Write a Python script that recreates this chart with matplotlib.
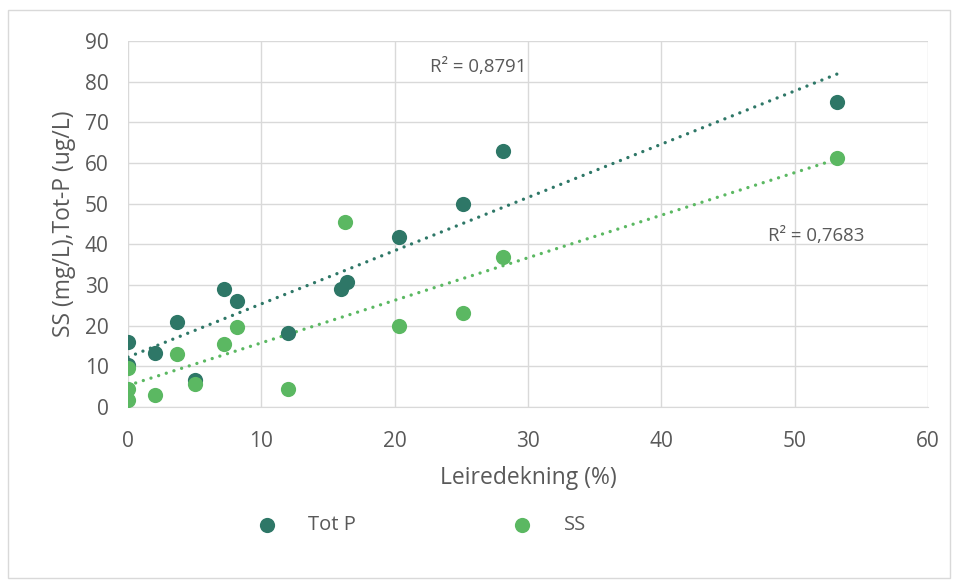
import numpy as np
import matplotlib
matplotlib.use("Agg")
import matplotlib.pyplot as plt
from matplotlib.patches import Rectangle

plt.rcParams['font.family'] = ['Open Sans', 'DejaVu Sans']

# Data
totp_x = [0, 0, 2, 3.7, 5, 7.2, 8.2, 12, 16, 16.4, 20.3, 25.1, 28.1, 53.2]
totp_y = [16, 10.3, 13.3, 21, 6.6, 29, 26, 18.2, 29, 30.7, 41.8, 50, 63, 75]
ss_x = [0, 0, 0, 2, 3.7, 5, 7.2, 8.2, 12, 16.3, 20.3, 25.1, 28.1, 53.2]
ss_y = [1.7, 4.4, 9.5, 3, 13, 5.6, 15.5, 19.7, 4.5, 45.5, 20, 23.1, 37, 61.3]
r2_labels = ["R² = 0,8791", "R² = 0,7683"]
series_names = ["Tot P", "SS"]
x_ticks = [0, 10, 20, 30, 40, 50, 60]
y_ticks = [0, 10, 20, 30, 40, 50, 60, 70, 80, 90]

dark = "#2E7767"
green = "#5BB862"
text_gray = "#595959"
grid_gray = "#D9D9D9"

fig = plt.figure(figsize=(9.58, 5.80), dpi=100)
fig.patches.append(Rectangle((8/958, 1-578/580), 942/958, 568/580, transform=fig.transFigure,
                             fill=False, edgecolor="#D9D9D9", linewidth=1.0))
ax = fig.add_axes([128/958, 1-407/580, 800/958, 366/580])

for xs, ys, c in [(totp_x, totp_y, dark), (ss_x, ss_y, green)]:
    xa = np.array(xs); ya = np.array(ys)
    m, b = np.polyfit(xa, ya, 1)
    xl = np.array([0, xa.max()])
    ax.plot(xl, m*xl + b, linestyle=(0, (0.01, 2.4)), color=c, linewidth=2.4, zorder=2,
            dash_capstyle='round', solid_capstyle='round')

ax.scatter(totp_x, totp_y, s=120, color=dark, zorder=3, label=series_names[0], linewidths=0)
ax.scatter(ss_x, ss_y, s=120, color=green, zorder=4, label=series_names[1], linewidths=0)

ax.text(26.3, 83.6, r2_labels[0], fontsize=13.4, color=text_gray, ha='center', va='center')
ax.text(51.6, 42, r2_labels[1], fontsize=13.4, color=text_gray, ha='center', va='center')

ax.set_xlim(0, 60)
ax.set_ylim(0, 90)
ax.set_xticks(x_ticks)
ax.set_yticks(y_ticks)
ax.grid(True, color=grid_gray, linewidth=1.0, zorder=0)
ax.set_axisbelow(True)
for s in ['top', 'right', 'left']:
    ax.spines[s].set_visible(False)
ax.spines['bottom'].set_color(grid_gray)
ax.tick_params(axis='both', length=0, labelsize=15, colors=text_gray)
ax.tick_params(axis='x', pad=17)
ax.tick_params(axis='y', pad=14)
ax.set_xlabel("Leiredekning (%)", fontsize=16.5, color=text_gray, labelpad=10)
ax.set_ylabel("SS (mg/L),Tot-P (ug/L)", fontsize=16.5, color=text_gray, labelpad=6)

leg = fig.legend(loc='center left', bbox_to_anchor=(257/958, 1-525/580), ncol=2, frameon=False,
                 fontsize=14.5, labelcolor=text_gray, markerscale=1.0, columnspacing=7.75,
                 handlelength=1.0, handletextpad=1.55, borderpad=0, borderaxespad=0)

fig.savefig("out.png", dpi=100)
